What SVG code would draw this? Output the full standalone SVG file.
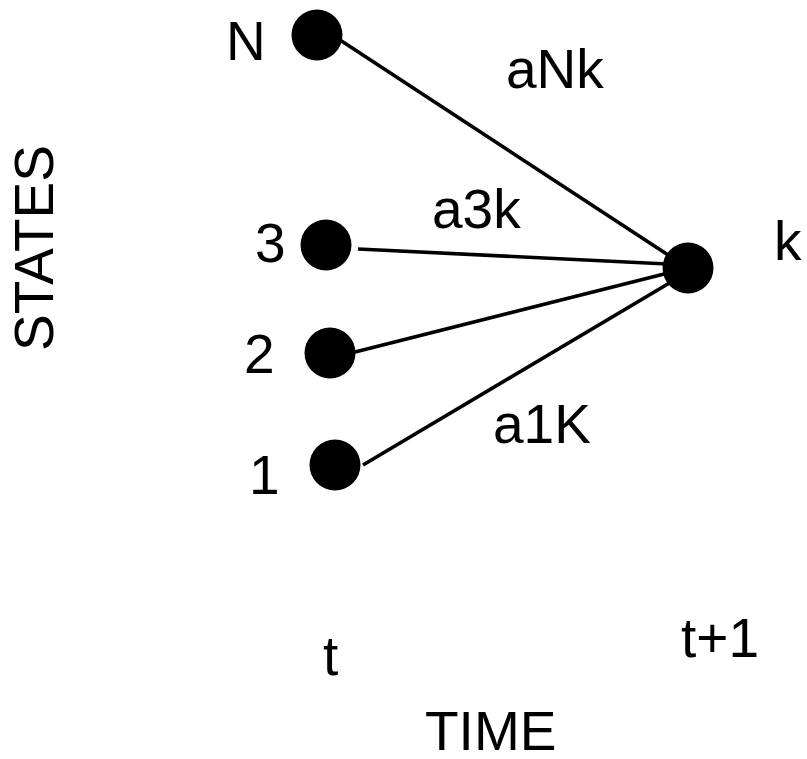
<svg xmlns="http://www.w3.org/2000/svg" width="807" height="759" viewBox="0 0 807 759">
  <style>
    text { font-family: "Liberation Sans", Arial, sans-serif; font-size: 55px; fill: #000; }
    .edge { stroke: #000; stroke-width: 3.6; fill: none; }
    .dot { fill: #000; }
  </style>
  <rect width="807" height="759" fill="#fff"/>

  <!-- transitions into state k -->
  <g id="connectors">
    <line class="edge" x1="340" y1="40" x2="688" y2="268"/>
    <line class="edge" x1="358" y1="249" x2="688" y2="265"/>
    <line class="edge" x1="355" y1="352" x2="688" y2="268"/>
    <line class="edge" x1="363" y1="465" x2="688" y2="272"/>
  </g>

  <g id="node-N">
    <circle class="dot" cx="317" cy="35" r="25.5"/>
    <text x="226" y="60">N</text>
  </g>
  <g id="node-3">
    <circle class="dot" cx="326" cy="245" r="25.5"/>
    <text x="255" y="262">3</text>
  </g>
  <g id="node-2">
    <circle class="dot" cx="330" cy="353" r="25.5"/>
    <text x="244" y="373">2</text>
  </g>
  <g id="node-1">
    <circle class="dot" cx="335" cy="465" r="25.5"/>
    <text x="249" y="494">1</text>
  </g>
  <g id="node-k">
    <circle class="dot" cx="688" cy="268" r="25.5"/>
    <text x="774" y="260">k</text>
  </g>

  <!-- edge labels -->
  <text x="506" y="88">aNk</text>
  <text x="432" y="228">a3k</text>
  <text x="493" y="443">a1K</text>

  <!-- axes -->
  <text transform="translate(53,248) rotate(-90)" text-anchor="middle">STATES</text>
  <text x="323" y="675">t</text>
  <text x="681" y="657">t+1</text>
  <text x="425" y="750">TIME</text>
</svg>
